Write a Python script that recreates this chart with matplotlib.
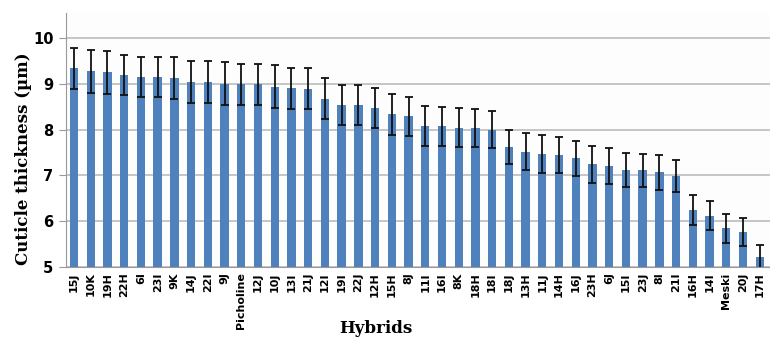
import matplotlib.pyplot as plt
import numpy as np

hybrids = ['15J', '10K', '19H', '22H', '6I', '23I', '9K', '14J', '22I', '9J',
           'Picholine', '12J', '10J', '13I', '21J', '12I', '19I', '22J', '12H', '15H',
           '8J', '11I', '16I', '8K', '18H', '18I', '18J', '13H', '11J', '14H',
           '16J', '23H', '6J', '15I', '23J', '8I', '21I', '16H', '14I', 'Meski',
           '20J', '17H']
thickness = [9.34, 9.27, 9.25, 9.19, 9.15, 9.15, 9.13, 9.04, 9.04, 9.00,
             8.99, 8.99, 8.93, 8.90, 8.89, 8.67, 8.54, 8.54, 8.47, 8.33,
             8.29, 8.08, 8.07, 8.04, 8.03, 8.00, 7.62, 7.52, 7.47, 7.45,
             7.37, 7.24, 7.20, 7.12, 7.11, 7.07, 6.99, 6.24, 6.12, 5.84,
             5.76, 5.22]
sd = [0.45, 0.47, 0.47, 0.44, 0.44, 0.44, 0.46, 0.46, 0.46, 0.47,
      0.45, 0.45, 0.47, 0.45, 0.45, 0.45, 0.43, 0.43, 0.43, 0.44,
      0.42, 0.43, 0.42, 0.43, 0.42, 0.41, 0.38, 0.41, 0.41, 0.39,
      0.38, 0.40, 0.39, 0.37, 0.36, 0.38, 0.35, 0.33, 0.31, 0.32,
      0.30, 0.26]

fig = plt.figure(figsize=(7.7, 3.37), dpi=100)
ax = fig.add_axes([0.0857, 0.208, 0.914, 0.754])
ax.set_facecolor('#fdfdfd')

x = np.arange(len(hybrids))
ax.bar(x, thickness, width=0.5, color='#4f81bd', zorder=2)
ax.errorbar(x, thickness, yerr=sd, fmt='none', ecolor='#111111',
            elinewidth=1.3, capsize=3, capthick=1.3, zorder=3)

ax.set_ylim(5, 10.55)
ax.set_xlim(-0.48, len(hybrids) - 0.4)
ax.set_yticks([5, 6, 7, 8, 9, 10])
ax.grid(axis='y', color='#bdbdbd', linewidth=1.2, zorder=0)

ax.set_xticks(x)
ax.set_xticklabels(hybrids, rotation=90, fontsize=8, fontweight='bold',
                   family='DejaVu Sans')
for lab in ax.get_yticklabels():
    lab.set_fontsize(10.5)
    lab.set_fontweight('bold')
ax.tick_params(axis='x', length=0, pad=4)
ax.tick_params(axis='y', length=5, color='#999999', pad=4)

for side in ['top', 'right']:
    ax.spines[side].set_visible(False)
ax.spines['left'].set_color('#999999')
ax.spines['bottom'].set_color('#999999')

ax.set_ylabel('Cuticle thickness (µm)', family='DejaVu Serif',
              fontweight='bold', fontsize=12)
ax.yaxis.set_label_coords(-0.048, 0.425)
ax.set_xlabel('Hybrids', family='DejaVu Serif', fontweight='bold',
              fontsize=12)
ax.xaxis.set_label_coords(0.44, -0.207)

fig.savefig('out.png', dpi=100)
